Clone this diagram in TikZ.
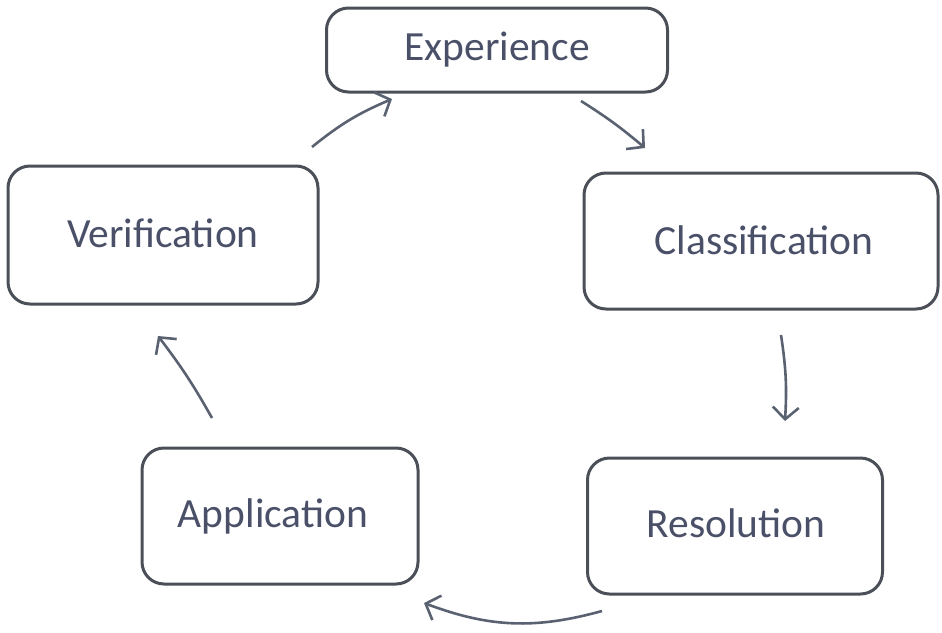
\documentclass[tikz,border=0pt]{standalone}
\usepackage{fontspec}
\setmainfont{Carlito}
\usetikzlibrary{arrows.meta}
\definecolor{boxline}{HTML}{4A4F58}
\definecolor{txt}{HTML}{4A5068}
\definecolor{arr}{HTML}{5A6272}
\tikzset{
  stagebox/.style={draw=boxline, line width=3pt, rounded corners=22pt, inner sep=0pt,
    font=\fontsize{41.5}{46}\selectfont, text=txt},
  cyc/.style={draw=arr, line width=2.6pt, -{Straight Barb[length=12pt,width=26pt,line width=2.6pt]}}
}
\begin{document}
\begin{tikzpicture}[x=1pt,y=-1pt]
\useasboundingbox (0,0) rectangle (942,632);
\node[stagebox, minimum width=341pt, minimum height=84pt] (exp) at (497,50) {\raisebox{2pt}{Experience}};
\node[stagebox, minimum width=310pt, minimum height=138pt] (ver) at (163,235) {\raisebox{3pt}{Verification}};
\node[stagebox, minimum width=354pt, minimum height=136pt] (cla) at (761,241) {\hspace*{6pt}\raisebox{2pt}{Classification}};
\node[stagebox, minimum width=276pt, minimum height=136pt] (app) at (280,516) {\raisebox{2pt}{Application}\hspace*{14pt}};
\node[stagebox, minimum width=295pt, minimum height=136pt] (res) at (735,526) {\raisebox{5pt}{Resolution}\hspace*{-2pt}};
\coordinate (a1s) at (312,147);
\coordinate (a1e) at (392,99);
\coordinate (a2s) at (581,101);
\coordinate (a2e) at (645,148);
\coordinate (a3s) at (781,335);
\coordinate (a3e) at (785,421);
\coordinate (a4s) at (602,611);
\coordinate (a4e) at (424,603);
\coordinate (a5s) at (212,418);
\coordinate (a5e) at (158,336);
\draw[cyc] (a1s) to[bend left=8] (a1e);
\draw[cyc] (a2s) to[bend left=4] (a2e);
\draw[cyc] (a3s) to[bend left=6] (a3e);
\draw[cyc] (a4s) to[bend left=18] (a4e);
\draw[cyc] (a5s) to[bend right=4] (a5e);
\end{tikzpicture}
\end{document}
